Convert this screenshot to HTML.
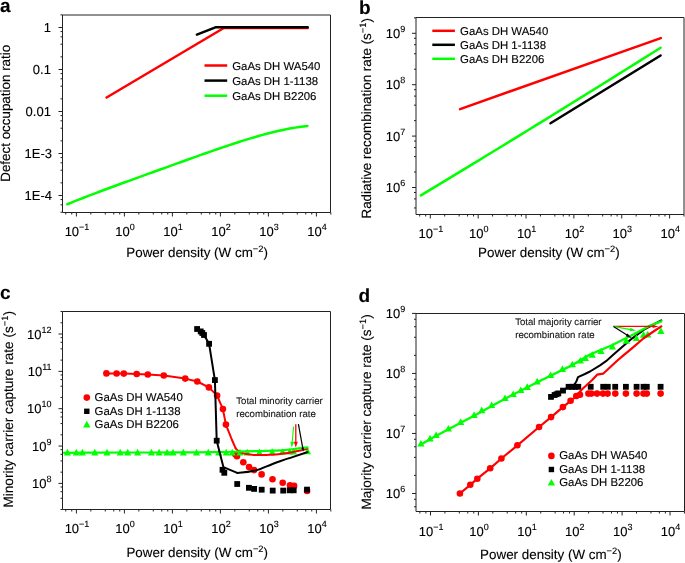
<!DOCTYPE html>
<html><head><meta charset="utf-8"><style>
html,body{margin:0;padding:0;background:#fff;width:685px;height:563px;overflow:hidden}
svg{display:block;will-change:transform}
text{font-family:"Liberation Sans",sans-serif;text-rendering:geometricPrecision;stroke:#000;stroke-width:0.12px}
</style></head><body>
<svg width="685" height="563" viewBox="0 0 685 563" font-family="Liberation Sans, sans-serif">
<rect width="685" height="563" fill="#fff"/>
<text x="0" y="12" font-size="19" text-anchor="start" font-weight="bold" fill="#000" >a</text>
<line x1="62.5" y1="15" x2="330.5" y2="15" stroke="#222" stroke-width="1"/>
<line x1="330.5" y1="15" x2="330.5" y2="212.5" stroke="#222" stroke-width="1"/>
<line x1="62.5" y1="212.5" x2="330.5" y2="212.5" stroke="#222" stroke-width="1"/>
<line x1="62.5" y1="15" x2="62.5" y2="212.5" stroke="#222" stroke-width="1"/>
<line x1="65.75" y1="212.5" x2="65.75" y2="214.5" stroke="#222" stroke-width="1"/>
<line x1="71.75" y1="212.5" x2="71.75" y2="214.5" stroke="#222" stroke-width="1"/>
<line x1="76.4" y1="212.5" x2="76.4" y2="216.5" stroke="#222" stroke-width="1"/>
<line x1="90.85" y1="212.5" x2="90.85" y2="214.5" stroke="#222" stroke-width="1"/>
<line x1="105.3" y1="212.5" x2="105.3" y2="214.5" stroke="#222" stroke-width="1"/>
<line x1="113.75" y1="212.5" x2="113.75" y2="214.5" stroke="#222" stroke-width="1"/>
<line x1="119.75" y1="212.5" x2="119.75" y2="214.5" stroke="#222" stroke-width="1"/>
<line x1="124.4" y1="212.5" x2="124.4" y2="216.5" stroke="#222" stroke-width="1"/>
<line x1="138.85" y1="212.5" x2="138.85" y2="214.5" stroke="#222" stroke-width="1"/>
<line x1="153.3" y1="212.5" x2="153.3" y2="214.5" stroke="#222" stroke-width="1"/>
<line x1="161.75" y1="212.5" x2="161.75" y2="214.5" stroke="#222" stroke-width="1"/>
<line x1="167.75" y1="212.5" x2="167.75" y2="214.5" stroke="#222" stroke-width="1"/>
<line x1="172.4" y1="212.5" x2="172.4" y2="216.5" stroke="#222" stroke-width="1"/>
<line x1="186.85" y1="212.5" x2="186.85" y2="214.5" stroke="#222" stroke-width="1"/>
<line x1="201.3" y1="212.5" x2="201.3" y2="214.5" stroke="#222" stroke-width="1"/>
<line x1="209.75" y1="212.5" x2="209.75" y2="214.5" stroke="#222" stroke-width="1"/>
<line x1="215.75" y1="212.5" x2="215.75" y2="214.5" stroke="#222" stroke-width="1"/>
<line x1="220.4" y1="212.5" x2="220.4" y2="216.5" stroke="#222" stroke-width="1"/>
<line x1="234.85" y1="212.5" x2="234.85" y2="214.5" stroke="#222" stroke-width="1"/>
<line x1="249.3" y1="212.5" x2="249.3" y2="214.5" stroke="#222" stroke-width="1"/>
<line x1="257.75" y1="212.5" x2="257.75" y2="214.5" stroke="#222" stroke-width="1"/>
<line x1="263.75" y1="212.5" x2="263.75" y2="214.5" stroke="#222" stroke-width="1"/>
<line x1="268.4" y1="212.5" x2="268.4" y2="216.5" stroke="#222" stroke-width="1"/>
<line x1="282.85" y1="212.5" x2="282.85" y2="214.5" stroke="#222" stroke-width="1"/>
<line x1="297.3" y1="212.5" x2="297.3" y2="214.5" stroke="#222" stroke-width="1"/>
<line x1="305.75" y1="212.5" x2="305.75" y2="214.5" stroke="#222" stroke-width="1"/>
<line x1="311.75" y1="212.5" x2="311.75" y2="214.5" stroke="#222" stroke-width="1"/>
<line x1="316.4" y1="212.5" x2="316.4" y2="216.5" stroke="#222" stroke-width="1"/>
<line x1="330.85" y1="212.5" x2="330.85" y2="214.5" stroke="#222" stroke-width="1"/>
<line x1="60.5" y1="212.21" x2="62.5" y2="212.21" stroke="#222" stroke-width="1"/>
<line x1="60.5" y1="204.82" x2="62.5" y2="204.82" stroke="#222" stroke-width="1"/>
<line x1="60.5" y1="199.57" x2="62.5" y2="199.57" stroke="#222" stroke-width="1"/>
<line x1="58.5" y1="195.5" x2="62.5" y2="195.5" stroke="#222" stroke-width="1"/>
<line x1="60.5" y1="182.86" x2="62.5" y2="182.86" stroke="#222" stroke-width="1"/>
<line x1="60.5" y1="170.21" x2="62.5" y2="170.21" stroke="#222" stroke-width="1"/>
<line x1="60.5" y1="162.82" x2="62.5" y2="162.82" stroke="#222" stroke-width="1"/>
<line x1="60.5" y1="157.57" x2="62.5" y2="157.57" stroke="#222" stroke-width="1"/>
<line x1="58.5" y1="153.5" x2="62.5" y2="153.5" stroke="#222" stroke-width="1"/>
<line x1="60.5" y1="140.86" x2="62.5" y2="140.86" stroke="#222" stroke-width="1"/>
<line x1="60.5" y1="128.21" x2="62.5" y2="128.21" stroke="#222" stroke-width="1"/>
<line x1="60.5" y1="120.82" x2="62.5" y2="120.82" stroke="#222" stroke-width="1"/>
<line x1="60.5" y1="115.57" x2="62.5" y2="115.57" stroke="#222" stroke-width="1"/>
<line x1="58.5" y1="111.5" x2="62.5" y2="111.5" stroke="#222" stroke-width="1"/>
<line x1="60.5" y1="98.86" x2="62.5" y2="98.86" stroke="#222" stroke-width="1"/>
<line x1="60.5" y1="86.21" x2="62.5" y2="86.21" stroke="#222" stroke-width="1"/>
<line x1="60.5" y1="78.82" x2="62.5" y2="78.82" stroke="#222" stroke-width="1"/>
<line x1="60.5" y1="73.57" x2="62.5" y2="73.57" stroke="#222" stroke-width="1"/>
<line x1="58.5" y1="69.5" x2="62.5" y2="69.5" stroke="#222" stroke-width="1"/>
<line x1="60.5" y1="56.86" x2="62.5" y2="56.86" stroke="#222" stroke-width="1"/>
<line x1="60.5" y1="44.21" x2="62.5" y2="44.21" stroke="#222" stroke-width="1"/>
<line x1="60.5" y1="36.82" x2="62.5" y2="36.82" stroke="#222" stroke-width="1"/>
<line x1="60.5" y1="31.57" x2="62.5" y2="31.57" stroke="#222" stroke-width="1"/>
<line x1="58.5" y1="27.5" x2="62.5" y2="27.5" stroke="#222" stroke-width="1"/>
<line x1="60.5" y1="14.86" x2="62.5" y2="14.86" stroke="#222" stroke-width="1"/>
<text x="50.9" y="32" font-size="13" text-anchor="end" font-weight="normal" fill="#000" >1</text>
<text x="50.9" y="74" font-size="13" text-anchor="end" font-weight="normal" fill="#000" >0.1</text>
<text x="50.9" y="116" font-size="13" text-anchor="end" font-weight="normal" fill="#000" >0.01</text>
<text x="52" y="158" font-size="13" text-anchor="end" font-weight="normal" fill="#000" >1E-3</text>
<text x="52" y="200" font-size="13" text-anchor="end" font-weight="normal" fill="#000" >1E-4</text>
<text x="77" y="235.8" font-size="13" text-anchor="middle" fill="#000">10<tspan dy="-6" font-size="9">−1</tspan></text>
<text x="125" y="235.8" font-size="13" text-anchor="middle" fill="#000">10<tspan dy="-6" font-size="9">0</tspan></text>
<text x="173" y="235.8" font-size="13" text-anchor="middle" fill="#000">10<tspan dy="-6" font-size="9">1</tspan></text>
<text x="221" y="235.8" font-size="13" text-anchor="middle" fill="#000">10<tspan dy="-6" font-size="9">2</tspan></text>
<text x="269" y="235.8" font-size="13" text-anchor="middle" fill="#000">10<tspan dy="-6" font-size="9">3</tspan></text>
<text x="317" y="235.8" font-size="13" text-anchor="middle" fill="#000">10<tspan dy="-6" font-size="9">4</tspan></text>
<text x="197.1" y="256.6" font-size="13.4" text-anchor="middle" font-weight="normal" fill="#000" >Power density (W cm<tspan dy="-5" font-size="9.3">−2</tspan><tspan dy="5">)</tspan></text>
<text x="10.2" y="113.3" font-size="13.4" text-anchor="middle" font-weight="normal" fill="#000" transform="rotate(-90 10.2 113.3)">Defect occupation ratio</text>
<polyline points="106.6,97.5 223.8,28 307.7,28" fill="none" stroke="#f00" stroke-width="2.5" stroke-linejoin="round" stroke-linecap="round" />
<polyline points="196.9,34.6 215.4,27.3 307.7,27.3" fill="none" stroke="#000" stroke-width="2.5" stroke-linejoin="round" stroke-linecap="round" />
<polyline points="67.3,204.27 71.37,202.6 75.44,200.95 79.51,199.33 83.58,197.73 87.65,196.15 91.72,194.59 95.79,193.05 99.86,191.52 103.93,190 107.99,188.49 112.06,186.99 116.13,185.49 120.2,184.01 124.27,182.53 128.34,181.05 132.41,179.58 136.48,178.1 140.55,176.63 144.62,175.16 148.69,173.69 152.76,172.23 156.83,170.76 160.9,169.29 164.97,167.82 169.04,166.35 173.11,164.88 177.18,163.42 181.25,161.95 185.32,160.49 189.38,159.03 193.45,157.57 197.52,156.12 201.59,154.67 205.66,153.24 209.73,151.81 213.8,150.39 217.87,148.98 221.94,147.59 226.01,146.21 230.08,144.85 234.15,143.51 238.22,142.19 242.29,140.9 246.36,139.63 250.43,138.4 254.5,137.19 258.57,136.02 262.64,134.89 266.71,133.8 270.77,132.76 274.84,131.76 278.91,130.82 282.98,129.93 287.05,129.09 291.12,128.33 295.19,127.62 299.26,126.99 303.33,126.44 307.4,125.96" fill="none" stroke="#0f0" stroke-width="2.5" stroke-linejoin="round" stroke-linecap="round" />
<line x1="204.5" y1="65.5" x2="227.2" y2="65.5" stroke="#f00" stroke-width="2.5"/>
<text x="232.2" y="69.5" font-size="11.4" text-anchor="start" font-weight="normal" fill="#000" >GaAs DH WA540</text>
<line x1="204.5" y1="80.6" x2="227.2" y2="80.6" stroke="#000" stroke-width="2.5"/>
<text x="232.2" y="84.6" font-size="11.4" text-anchor="start" font-weight="normal" fill="#000" >GaAs DH 1-1138</text>
<line x1="204.5" y1="95.7" x2="227.2" y2="95.7" stroke="#0f0" stroke-width="2.5"/>
<text x="232.2" y="99.7" font-size="11.4" text-anchor="start" font-weight="normal" fill="#000" >GaAs DH B2206</text>
<text x="359" y="13.9" font-size="19" text-anchor="start" font-weight="bold" fill="#000" >b</text>
<line x1="416" y1="17.5" x2="684" y2="17.5" stroke="#222" stroke-width="1"/>
<line x1="684" y1="17.5" x2="684" y2="214.5" stroke="#222" stroke-width="1"/>
<line x1="416" y1="214.5" x2="684" y2="214.5" stroke="#222" stroke-width="1"/>
<line x1="416" y1="17.5" x2="416" y2="214.5" stroke="#222" stroke-width="1"/>
<line x1="419.68" y1="214.5" x2="419.68" y2="216.5" stroke="#222" stroke-width="1"/>
<line x1="425.66" y1="214.5" x2="425.66" y2="216.5" stroke="#222" stroke-width="1"/>
<line x1="430.3" y1="214.5" x2="430.3" y2="218.5" stroke="#222" stroke-width="1"/>
<line x1="444.71" y1="214.5" x2="444.71" y2="216.5" stroke="#222" stroke-width="1"/>
<line x1="459.11" y1="214.5" x2="459.11" y2="216.5" stroke="#222" stroke-width="1"/>
<line x1="467.54" y1="214.5" x2="467.54" y2="216.5" stroke="#222" stroke-width="1"/>
<line x1="473.52" y1="214.5" x2="473.52" y2="216.5" stroke="#222" stroke-width="1"/>
<line x1="478.16" y1="214.5" x2="478.16" y2="218.5" stroke="#222" stroke-width="1"/>
<line x1="492.57" y1="214.5" x2="492.57" y2="216.5" stroke="#222" stroke-width="1"/>
<line x1="506.97" y1="214.5" x2="506.97" y2="216.5" stroke="#222" stroke-width="1"/>
<line x1="515.4" y1="214.5" x2="515.4" y2="216.5" stroke="#222" stroke-width="1"/>
<line x1="521.38" y1="214.5" x2="521.38" y2="216.5" stroke="#222" stroke-width="1"/>
<line x1="526.02" y1="214.5" x2="526.02" y2="218.5" stroke="#222" stroke-width="1"/>
<line x1="540.43" y1="214.5" x2="540.43" y2="216.5" stroke="#222" stroke-width="1"/>
<line x1="554.83" y1="214.5" x2="554.83" y2="216.5" stroke="#222" stroke-width="1"/>
<line x1="563.26" y1="214.5" x2="563.26" y2="216.5" stroke="#222" stroke-width="1"/>
<line x1="569.24" y1="214.5" x2="569.24" y2="216.5" stroke="#222" stroke-width="1"/>
<line x1="573.88" y1="214.5" x2="573.88" y2="218.5" stroke="#222" stroke-width="1"/>
<line x1="588.29" y1="214.5" x2="588.29" y2="216.5" stroke="#222" stroke-width="1"/>
<line x1="602.69" y1="214.5" x2="602.69" y2="216.5" stroke="#222" stroke-width="1"/>
<line x1="611.12" y1="214.5" x2="611.12" y2="216.5" stroke="#222" stroke-width="1"/>
<line x1="617.1" y1="214.5" x2="617.1" y2="216.5" stroke="#222" stroke-width="1"/>
<line x1="621.74" y1="214.5" x2="621.74" y2="218.5" stroke="#222" stroke-width="1"/>
<line x1="636.15" y1="214.5" x2="636.15" y2="216.5" stroke="#222" stroke-width="1"/>
<line x1="650.55" y1="214.5" x2="650.55" y2="216.5" stroke="#222" stroke-width="1"/>
<line x1="658.98" y1="214.5" x2="658.98" y2="216.5" stroke="#222" stroke-width="1"/>
<line x1="664.96" y1="214.5" x2="664.96" y2="216.5" stroke="#222" stroke-width="1"/>
<line x1="669.6" y1="214.5" x2="669.6" y2="218.5" stroke="#222" stroke-width="1"/>
<line x1="684.01" y1="214.5" x2="684.01" y2="216.5" stroke="#222" stroke-width="1"/>
<line x1="414" y1="207.95" x2="416" y2="207.95" stroke="#222" stroke-width="1"/>
<line x1="414" y1="198.9" x2="416" y2="198.9" stroke="#222" stroke-width="1"/>
<line x1="414" y1="192.48" x2="416" y2="192.48" stroke="#222" stroke-width="1"/>
<line x1="412" y1="187.5" x2="416" y2="187.5" stroke="#222" stroke-width="1"/>
<line x1="414" y1="172.03" x2="416" y2="172.03" stroke="#222" stroke-width="1"/>
<line x1="414" y1="156.55" x2="416" y2="156.55" stroke="#222" stroke-width="1"/>
<line x1="414" y1="147.5" x2="416" y2="147.5" stroke="#222" stroke-width="1"/>
<line x1="414" y1="141.08" x2="416" y2="141.08" stroke="#222" stroke-width="1"/>
<line x1="412" y1="136.1" x2="416" y2="136.1" stroke="#222" stroke-width="1"/>
<line x1="414" y1="120.63" x2="416" y2="120.63" stroke="#222" stroke-width="1"/>
<line x1="414" y1="105.15" x2="416" y2="105.15" stroke="#222" stroke-width="1"/>
<line x1="414" y1="96.1" x2="416" y2="96.1" stroke="#222" stroke-width="1"/>
<line x1="414" y1="89.68" x2="416" y2="89.68" stroke="#222" stroke-width="1"/>
<line x1="412" y1="84.7" x2="416" y2="84.7" stroke="#222" stroke-width="1"/>
<line x1="414" y1="69.23" x2="416" y2="69.23" stroke="#222" stroke-width="1"/>
<line x1="414" y1="53.75" x2="416" y2="53.75" stroke="#222" stroke-width="1"/>
<line x1="414" y1="44.7" x2="416" y2="44.7" stroke="#222" stroke-width="1"/>
<line x1="414" y1="38.28" x2="416" y2="38.28" stroke="#222" stroke-width="1"/>
<line x1="412" y1="33.3" x2="416" y2="33.3" stroke="#222" stroke-width="1"/>
<line x1="414" y1="17.83" x2="416" y2="17.83" stroke="#222" stroke-width="1"/>
<text x="405.3" y="37.7" font-size="13" text-anchor="end">10<tspan dy="-6" font-size="9">9</tspan></text>
<text x="405.3" y="89.1" font-size="13" text-anchor="end">10<tspan dy="-6" font-size="9">8</tspan></text>
<text x="405.3" y="140.5" font-size="13" text-anchor="end">10<tspan dy="-6" font-size="9">7</tspan></text>
<text x="405.3" y="191.9" font-size="13" text-anchor="end">10<tspan dy="-6" font-size="9">6</tspan></text>
<text x="430.9" y="238" font-size="13" text-anchor="middle" fill="#000">10<tspan dy="-6" font-size="9">−1</tspan></text>
<text x="478.76" y="238" font-size="13" text-anchor="middle" fill="#000">10<tspan dy="-6" font-size="9">0</tspan></text>
<text x="526.62" y="238" font-size="13" text-anchor="middle" fill="#000">10<tspan dy="-6" font-size="9">1</tspan></text>
<text x="574.48" y="238" font-size="13" text-anchor="middle" fill="#000">10<tspan dy="-6" font-size="9">2</tspan></text>
<text x="622.34" y="238" font-size="13" text-anchor="middle" fill="#000">10<tspan dy="-6" font-size="9">3</tspan></text>
<text x="670.2" y="238" font-size="13" text-anchor="middle" fill="#000">10<tspan dy="-6" font-size="9">4</tspan></text>
<text x="548.9" y="256.5" font-size="13.4" text-anchor="middle" font-weight="normal" fill="#000" >Power density (W cm<tspan dy="-5" font-size="9.3">−2</tspan><tspan dy="5">)</tspan></text>
<text x="371.4" y="118.3" font-size="13.4" text-anchor="middle" font-weight="normal" fill="#000" transform="rotate(-90 371.4 118.3)">Radiative recombination rate (s<tspan dy="-5" font-size="9.3">−1</tspan><tspan dy="5">)</tspan></text>
<polyline points="460.1,109.1 660.8,38.1" fill="none" stroke="#f00" stroke-width="2.5" stroke-linejoin="round" stroke-linecap="round" />
<polyline points="550.5,123.3 660.6,55.5" fill="none" stroke="#000" stroke-width="2.5" stroke-linejoin="round" stroke-linecap="round" />
<polyline points="420.9,195.41 429.17,190.42 437.43,185.42 445.7,180.42 453.96,175.41 462.23,170.39 470.49,165.37 478.76,160.34 487.02,155.3 495.29,150.25 503.56,145.2 511.82,140.13 520.09,135.07 528.35,129.99 536.62,124.91 544.88,119.82 553.15,114.72 561.41,109.61 569.68,104.5 577.94,99.38 586.21,94.25 594.48,89.12 602.74,83.98 611.01,78.83 619.27,73.67 627.54,68.51 635.8,63.34 644.07,58.16 652.33,52.97 660.6,47.78" fill="none" stroke="#0f0" stroke-width="2.5" stroke-linejoin="round" stroke-linecap="round" />
<line x1="432.3" y1="30.8" x2="454.9" y2="30.8" stroke="#f00" stroke-width="2.5"/>
<text x="460.1" y="34.7" font-size="11.4" text-anchor="start" font-weight="normal" fill="#000" >GaAs DH WA540</text>
<line x1="432.3" y1="44.8" x2="454.9" y2="44.8" stroke="#000" stroke-width="2.5"/>
<text x="460.1" y="48.7" font-size="11.4" text-anchor="start" font-weight="normal" fill="#000" >GaAs DH 1-1138</text>
<line x1="432.3" y1="58.8" x2="454.9" y2="58.8" stroke="#0f0" stroke-width="2.5"/>
<text x="460.1" y="62.7" font-size="11.4" text-anchor="start" font-weight="normal" fill="#000" >GaAs DH B2206</text>
<text x="0" y="299.4" font-size="19" text-anchor="start" font-weight="bold" fill="#000" >c</text>
<line x1="62.5" y1="311.5" x2="330.5" y2="311.5" stroke="#222" stroke-width="1"/>
<line x1="330.5" y1="311.5" x2="330.5" y2="509.5" stroke="#222" stroke-width="1"/>
<line x1="62.5" y1="509.5" x2="330.5" y2="509.5" stroke="#222" stroke-width="1"/>
<line x1="62.5" y1="311.5" x2="62.5" y2="509.5" stroke="#222" stroke-width="1"/>
<line x1="65.75" y1="509.5" x2="65.75" y2="511.5" stroke="#222" stroke-width="1"/>
<line x1="71.75" y1="509.5" x2="71.75" y2="511.5" stroke="#222" stroke-width="1"/>
<line x1="76.4" y1="509.5" x2="76.4" y2="513.5" stroke="#222" stroke-width="1"/>
<line x1="90.85" y1="509.5" x2="90.85" y2="511.5" stroke="#222" stroke-width="1"/>
<line x1="105.3" y1="509.5" x2="105.3" y2="511.5" stroke="#222" stroke-width="1"/>
<line x1="113.75" y1="509.5" x2="113.75" y2="511.5" stroke="#222" stroke-width="1"/>
<line x1="119.75" y1="509.5" x2="119.75" y2="511.5" stroke="#222" stroke-width="1"/>
<line x1="124.4" y1="509.5" x2="124.4" y2="513.5" stroke="#222" stroke-width="1"/>
<line x1="138.85" y1="509.5" x2="138.85" y2="511.5" stroke="#222" stroke-width="1"/>
<line x1="153.3" y1="509.5" x2="153.3" y2="511.5" stroke="#222" stroke-width="1"/>
<line x1="161.75" y1="509.5" x2="161.75" y2="511.5" stroke="#222" stroke-width="1"/>
<line x1="167.75" y1="509.5" x2="167.75" y2="511.5" stroke="#222" stroke-width="1"/>
<line x1="172.4" y1="509.5" x2="172.4" y2="513.5" stroke="#222" stroke-width="1"/>
<line x1="186.85" y1="509.5" x2="186.85" y2="511.5" stroke="#222" stroke-width="1"/>
<line x1="201.3" y1="509.5" x2="201.3" y2="511.5" stroke="#222" stroke-width="1"/>
<line x1="209.75" y1="509.5" x2="209.75" y2="511.5" stroke="#222" stroke-width="1"/>
<line x1="215.75" y1="509.5" x2="215.75" y2="511.5" stroke="#222" stroke-width="1"/>
<line x1="220.4" y1="509.5" x2="220.4" y2="513.5" stroke="#222" stroke-width="1"/>
<line x1="234.85" y1="509.5" x2="234.85" y2="511.5" stroke="#222" stroke-width="1"/>
<line x1="249.3" y1="509.5" x2="249.3" y2="511.5" stroke="#222" stroke-width="1"/>
<line x1="257.75" y1="509.5" x2="257.75" y2="511.5" stroke="#222" stroke-width="1"/>
<line x1="263.75" y1="509.5" x2="263.75" y2="511.5" stroke="#222" stroke-width="1"/>
<line x1="268.4" y1="509.5" x2="268.4" y2="513.5" stroke="#222" stroke-width="1"/>
<line x1="282.85" y1="509.5" x2="282.85" y2="511.5" stroke="#222" stroke-width="1"/>
<line x1="297.3" y1="509.5" x2="297.3" y2="511.5" stroke="#222" stroke-width="1"/>
<line x1="305.75" y1="509.5" x2="305.75" y2="511.5" stroke="#222" stroke-width="1"/>
<line x1="311.75" y1="509.5" x2="311.75" y2="511.5" stroke="#222" stroke-width="1"/>
<line x1="316.4" y1="509.5" x2="316.4" y2="513.5" stroke="#222" stroke-width="1"/>
<line x1="330.85" y1="509.5" x2="330.85" y2="511.5" stroke="#222" stroke-width="1"/>
<line x1="60.5" y1="509.51" x2="62.5" y2="509.51" stroke="#222" stroke-width="1"/>
<line x1="60.5" y1="498.26" x2="62.5" y2="498.26" stroke="#222" stroke-width="1"/>
<line x1="60.5" y1="491.69" x2="62.5" y2="491.69" stroke="#222" stroke-width="1"/>
<line x1="60.5" y1="487.02" x2="62.5" y2="487.02" stroke="#222" stroke-width="1"/>
<line x1="58.5" y1="483.4" x2="62.5" y2="483.4" stroke="#222" stroke-width="1"/>
<line x1="60.5" y1="472.16" x2="62.5" y2="472.16" stroke="#222" stroke-width="1"/>
<line x1="60.5" y1="460.91" x2="62.5" y2="460.91" stroke="#222" stroke-width="1"/>
<line x1="60.5" y1="454.34" x2="62.5" y2="454.34" stroke="#222" stroke-width="1"/>
<line x1="60.5" y1="449.67" x2="62.5" y2="449.67" stroke="#222" stroke-width="1"/>
<line x1="58.5" y1="446.05" x2="62.5" y2="446.05" stroke="#222" stroke-width="1"/>
<line x1="60.5" y1="434.81" x2="62.5" y2="434.81" stroke="#222" stroke-width="1"/>
<line x1="60.5" y1="423.56" x2="62.5" y2="423.56" stroke="#222" stroke-width="1"/>
<line x1="60.5" y1="416.99" x2="62.5" y2="416.99" stroke="#222" stroke-width="1"/>
<line x1="60.5" y1="412.32" x2="62.5" y2="412.32" stroke="#222" stroke-width="1"/>
<line x1="58.5" y1="408.7" x2="62.5" y2="408.7" stroke="#222" stroke-width="1"/>
<line x1="60.5" y1="397.46" x2="62.5" y2="397.46" stroke="#222" stroke-width="1"/>
<line x1="60.5" y1="386.21" x2="62.5" y2="386.21" stroke="#222" stroke-width="1"/>
<line x1="60.5" y1="379.64" x2="62.5" y2="379.64" stroke="#222" stroke-width="1"/>
<line x1="60.5" y1="374.97" x2="62.5" y2="374.97" stroke="#222" stroke-width="1"/>
<line x1="58.5" y1="371.35" x2="62.5" y2="371.35" stroke="#222" stroke-width="1"/>
<line x1="60.5" y1="360.11" x2="62.5" y2="360.11" stroke="#222" stroke-width="1"/>
<line x1="60.5" y1="348.86" x2="62.5" y2="348.86" stroke="#222" stroke-width="1"/>
<line x1="60.5" y1="342.29" x2="62.5" y2="342.29" stroke="#222" stroke-width="1"/>
<line x1="60.5" y1="337.62" x2="62.5" y2="337.62" stroke="#222" stroke-width="1"/>
<line x1="58.5" y1="334" x2="62.5" y2="334" stroke="#222" stroke-width="1"/>
<line x1="60.5" y1="322.76" x2="62.5" y2="322.76" stroke="#222" stroke-width="1"/>
<line x1="60.5" y1="311.51" x2="62.5" y2="311.51" stroke="#222" stroke-width="1"/>
<text x="51.6" y="338.5" font-size="13" text-anchor="end">10<tspan dy="-6" font-size="9">12</tspan></text>
<text x="51.6" y="375.85" font-size="13" text-anchor="end">10<tspan dy="-6" font-size="9">11</tspan></text>
<text x="51.6" y="413.2" font-size="13" text-anchor="end">10<tspan dy="-6" font-size="9">10</tspan></text>
<text x="51.6" y="450.55" font-size="13" text-anchor="end">10<tspan dy="-6" font-size="9">9</tspan></text>
<text x="51.6" y="487.9" font-size="13" text-anchor="end">10<tspan dy="-6" font-size="9">8</tspan></text>
<text x="77" y="533.4" font-size="13" text-anchor="middle" fill="#000">10<tspan dy="-6" font-size="9">−1</tspan></text>
<text x="125" y="533.4" font-size="13" text-anchor="middle" fill="#000">10<tspan dy="-6" font-size="9">0</tspan></text>
<text x="173" y="533.4" font-size="13" text-anchor="middle" fill="#000">10<tspan dy="-6" font-size="9">1</tspan></text>
<text x="221" y="533.4" font-size="13" text-anchor="middle" fill="#000">10<tspan dy="-6" font-size="9">2</tspan></text>
<text x="269" y="533.4" font-size="13" text-anchor="middle" fill="#000">10<tspan dy="-6" font-size="9">3</tspan></text>
<text x="317" y="533.4" font-size="13" text-anchor="middle" fill="#000">10<tspan dy="-6" font-size="9">4</tspan></text>
<text x="197.2" y="557.1" font-size="13.4" text-anchor="middle" font-weight="normal" fill="#000" >Power density (W cm<tspan dy="-5" font-size="9.3">−2</tspan><tspan dy="5">)</tspan></text>
<text x="12.7" y="409.3" font-size="13.6" text-anchor="middle" font-weight="normal" fill="#000" transform="rotate(-90 12.7 409.3)">Minority carrier capture rate (s<tspan dy="-5" font-size="9.4">−1</tspan><tspan dy="5">)</tspan></text>
<circle cx="106.4" cy="373.4" r="3.3" fill="#f00"/>
<circle cx="116.6" cy="373.5" r="3.3" fill="#f00"/>
<circle cx="123.8" cy="373.6" r="3.3" fill="#f00"/>
<circle cx="136.7" cy="374" r="3.3" fill="#f00"/>
<circle cx="147.8" cy="374.5" r="3.3" fill="#f00"/>
<circle cx="163.8" cy="375.5" r="3.3" fill="#f00"/>
<circle cx="185.2" cy="378.6" r="3.3" fill="#f00"/>
<circle cx="197.3" cy="381.5" r="3.3" fill="#f00"/>
<circle cx="208.9" cy="387.4" r="3.3" fill="#f00"/>
<circle cx="217.1" cy="395.6" r="3.3" fill="#f00"/>
<circle cx="222.9" cy="409.1" r="3.3" fill="#f00"/>
<circle cx="225.9" cy="424.6" r="3.3" fill="#f00"/>
<circle cx="235.3" cy="454.3" r="3.3" fill="#f00"/>
<circle cx="237" cy="456.2" r="3.3" fill="#f00"/>
<circle cx="243.3" cy="462.3" r="3.3" fill="#f00"/>
<circle cx="249.1" cy="467" r="3.3" fill="#f00"/>
<circle cx="254.1" cy="470.1" r="3.3" fill="#f00"/>
<circle cx="261.6" cy="474.4" r="3.3" fill="#f00"/>
<circle cx="272.5" cy="479.2" r="3.3" fill="#f00"/>
<circle cx="282.7" cy="482.7" r="3.3" fill="#f00"/>
<circle cx="290" cy="485.2" r="3.3" fill="#f00"/>
<circle cx="294.1" cy="485.9" r="3.3" fill="#f00"/>
<circle cx="307.1" cy="490.9" r="3.3" fill="#f00"/>
<polygon points="67.4,448.8 63.9,455.4 70.9,455.4" fill="#0f0"/>
<polygon points="76.3,448.8 72.8,455.4 79.8,455.4" fill="#0f0"/>
<polygon points="82.4,448.8 78.9,455.4 85.9,455.4" fill="#0f0"/>
<polygon points="94.8,448.8 91.3,455.4 98.3,455.4" fill="#0f0"/>
<polygon points="107,448.8 103.5,455.4 110.5,455.4" fill="#0f0"/>
<polygon points="120.2,448.8 116.7,455.4 123.7,455.4" fill="#0f0"/>
<polygon points="127.7,448.8 124.2,455.4 131.2,455.4" fill="#0f0"/>
<polygon points="137.6,448.8 134.1,455.4 141.1,455.4" fill="#0f0"/>
<polygon points="151.4,448.8 147.9,455.4 154.9,455.4" fill="#0f0"/>
<polygon points="159.1,448.8 155.6,455.4 162.6,455.4" fill="#0f0"/>
<polygon points="167,448.8 163.5,455.4 170.5,455.4" fill="#0f0"/>
<polygon points="173,448.8 169.5,455.4 176.5,455.4" fill="#0f0"/>
<polygon points="183.3,448.8 179.8,455.4 186.8,455.4" fill="#0f0"/>
<polygon points="196.5,448.8 193,455.4 200,455.4" fill="#0f0"/>
<polygon points="208.3,448.8 204.8,455.4 211.8,455.4" fill="#0f0"/>
<polygon points="218.7,448.8 215.2,455.4 222.2,455.4" fill="#0f0"/>
<polygon points="226.2,448.8 222.7,455.4 229.7,455.4" fill="#0f0"/>
<polygon points="232.2,448.8 228.7,455.4 235.7,455.4" fill="#0f0"/>
<polygon points="240,448.8 236.5,455.4 243.5,455.4" fill="#0f0"/>
<polygon points="247.3,448.8 243.8,455.4 250.8,455.4" fill="#0f0"/>
<polygon points="259.4,448.61 255.9,455.21 262.9,455.21" fill="#0f0"/>
<polygon points="272.3,448.35 268.8,454.95 275.8,454.95" fill="#0f0"/>
<polygon points="282.5,448.15 279,454.75 286,454.75" fill="#0f0"/>
<polygon points="289.7,448.01 286.2,454.61 293.2,454.61" fill="#0f0"/>
<polygon points="293.5,447.93 290,454.53 297,454.53" fill="#0f0"/>
<polygon points="307.5,447.65 304,454.25 311,454.25" fill="#0f0"/>
<polyline points="106.4,373.4 116.6,373.5 123.8,373.6 136.7,374 147.8,374.5 163.8,375.5 185.2,378.6 197.3,381.5 208.9,387.4 217.1,395.6 222.9,409.1 225.9,424.6 232,440 235.6,448.2" fill="none" stroke="#f00" stroke-width="2" stroke-linejoin="round" stroke-linecap="round" />
<path d="M235.6,448.2 C237.4,449.6 236.2,450.33 241,452.4 C245.8,454.47 243.67,453.53 250,454.4 C256.33,455.27 253.33,454.87 260,455 C266.67,455.13 263.33,455.13 270,454.8 C276.67,454.47 271.67,455.07 280,454 C288.33,452.93 285.83,453.37 295,451.6 C304.17,449.83 303.33,449.67 307.5,448.7" fill="none" stroke="#f00" stroke-width="2" stroke-linejoin="round" stroke-linecap="round"/>
<path d="M64,452.8 C92.67,452.7 100.67,452.7 150,452.5 C199.33,452.3 180.33,452.6 212,452.2 C243.67,451.8 225,451.83 245,451.3 C265,450.77 257,451.2 272,450.6 C287,450 278.17,450.6 290,449.5 C301.83,448.4 301.67,448.03 307.5,447.3" fill="none" stroke="#0f0" stroke-width="2.2" stroke-linejoin="round" stroke-linecap="round"/>
<polyline points="197.1,329 200.7,331.4 202.3,333 204,335 209.1,343.8 214.9,380.1 215.8,410 216.7,440.7 223.4,467.1 237.3,472.9" fill="none" stroke="#000" stroke-width="2" stroke-linejoin="round" stroke-linecap="round" />
<path d="M237.3,472.9 C242.8,472.2 244.23,472.9 253.8,470.8 C263.37,468.7 257.27,469.8 266,466.6 C274.73,463.4 270.67,464.53 280,461.2 C289.33,457.87 284.83,459.63 294,456.6 C303.17,453.57 303,453.6 307.5,452.1" fill="none" stroke="#000" stroke-width="2" stroke-linejoin="round" stroke-linecap="round"/>
<rect x="194.2" y="326.1" width="5.8" height="5.8" fill="#000"/>
<rect x="197.8" y="328.5" width="5.8" height="5.8" fill="#000"/>
<rect x="199.4" y="330.1" width="5.8" height="5.8" fill="#000"/>
<rect x="201.1" y="332.1" width="5.8" height="5.8" fill="#000"/>
<rect x="206.2" y="340.9" width="5.8" height="5.8" fill="#000"/>
<rect x="212" y="377.2" width="5.8" height="5.8" fill="#000"/>
<rect x="213.8" y="437.8" width="5.8" height="5.8" fill="#000"/>
<rect x="219.6" y="466.9" width="5.8" height="5.8" fill="#000"/>
<rect x="221.4" y="469.9" width="5.8" height="5.8" fill="#000"/>
<rect x="234.3" y="481.1" width="5.8" height="5.8" fill="#000"/>
<rect x="246" y="484.9" width="5.8" height="5.8" fill="#000"/>
<rect x="251.2" y="486" width="5.8" height="5.8" fill="#000"/>
<rect x="258.8" y="486.8" width="5.8" height="5.8" fill="#000"/>
<rect x="269.8" y="487.7" width="5.8" height="5.8" fill="#000"/>
<rect x="280.3" y="487.7" width="5.8" height="5.8" fill="#000"/>
<rect x="286.8" y="487.4" width="5.8" height="5.8" fill="#000"/>
<rect x="290.8" y="487.4" width="5.8" height="5.8" fill="#000"/>
<rect x="304.1" y="486.7" width="5.8" height="5.8" fill="#000"/>
<line x1="293.6" y1="426.6" x2="292.18" y2="442.32" stroke="#0f0" stroke-width="1.1"/>
<polygon points="291.7,447.6 290.33,441.65 294.11,441.99" fill="#0f0"/>
<line x1="295.8" y1="424.2" x2="295.8" y2="442.3" stroke="#f00" stroke-width="1.3"/>
<polygon points="295.8,447.6 293.8,441.8 297.8,441.8" fill="#f00"/>
<line x1="298.4" y1="424.2" x2="302.77" y2="448.16" stroke="#000" stroke-width="1.2"/>
<polygon points="303.4,451.6 301.4,447.9 303.96,447.43" fill="#000"/>
<text x="236.3" y="404.1" font-size="9.6" text-anchor="start" font-weight="normal" fill="#222" >Total minority carrier</text>
<text x="236.3" y="416.8" font-size="9.6" text-anchor="start" font-weight="normal" fill="#222" >recombination rate</text>
<circle cx="86.8" cy="397.6" r="3.3" fill="#f00"/>
<rect x="84.1" y="408.6" width="5.4" height="5.4" fill="#000"/>
<polygon points="86.8,420.8 83.1,427.4 90.5,427.4" fill="#0f0"/>
<text x="94.6" y="401.4" font-size="11.4" text-anchor="start" font-weight="normal" fill="#000" >GaAs DH WA540</text>
<text x="94.6" y="414.7" font-size="11.4" text-anchor="start" font-weight="normal" fill="#000" >GaAs DH 1-1138</text>
<text x="94.6" y="428" font-size="11.4" text-anchor="start" font-weight="normal" fill="#000" >GaAs DH B2206</text>
<text x="358.4" y="301.6" font-size="19" text-anchor="start" font-weight="bold" fill="#000" >d</text>
<line x1="416" y1="313.5" x2="684.5" y2="313.5" stroke="#222" stroke-width="1"/>
<line x1="684.5" y1="313.5" x2="684.5" y2="511.5" stroke="#222" stroke-width="1"/>
<line x1="416" y1="511.5" x2="684.5" y2="511.5" stroke="#222" stroke-width="1"/>
<line x1="416" y1="313.5" x2="416" y2="511.5" stroke="#222" stroke-width="1"/>
<line x1="419.87" y1="511.5" x2="419.87" y2="513.5" stroke="#222" stroke-width="1"/>
<line x1="425.86" y1="511.5" x2="425.86" y2="513.5" stroke="#222" stroke-width="1"/>
<line x1="430.5" y1="511.5" x2="430.5" y2="515.5" stroke="#222" stroke-width="1"/>
<line x1="444.92" y1="511.5" x2="444.92" y2="513.5" stroke="#222" stroke-width="1"/>
<line x1="459.34" y1="511.5" x2="459.34" y2="513.5" stroke="#222" stroke-width="1"/>
<line x1="467.77" y1="511.5" x2="467.77" y2="513.5" stroke="#222" stroke-width="1"/>
<line x1="473.76" y1="511.5" x2="473.76" y2="513.5" stroke="#222" stroke-width="1"/>
<line x1="478.4" y1="511.5" x2="478.4" y2="515.5" stroke="#222" stroke-width="1"/>
<line x1="492.82" y1="511.5" x2="492.82" y2="513.5" stroke="#222" stroke-width="1"/>
<line x1="507.24" y1="511.5" x2="507.24" y2="513.5" stroke="#222" stroke-width="1"/>
<line x1="515.67" y1="511.5" x2="515.67" y2="513.5" stroke="#222" stroke-width="1"/>
<line x1="521.66" y1="511.5" x2="521.66" y2="513.5" stroke="#222" stroke-width="1"/>
<line x1="526.3" y1="511.5" x2="526.3" y2="515.5" stroke="#222" stroke-width="1"/>
<line x1="540.72" y1="511.5" x2="540.72" y2="513.5" stroke="#222" stroke-width="1"/>
<line x1="555.14" y1="511.5" x2="555.14" y2="513.5" stroke="#222" stroke-width="1"/>
<line x1="563.57" y1="511.5" x2="563.57" y2="513.5" stroke="#222" stroke-width="1"/>
<line x1="569.56" y1="511.5" x2="569.56" y2="513.5" stroke="#222" stroke-width="1"/>
<line x1="574.2" y1="511.5" x2="574.2" y2="515.5" stroke="#222" stroke-width="1"/>
<line x1="588.62" y1="511.5" x2="588.62" y2="513.5" stroke="#222" stroke-width="1"/>
<line x1="603.04" y1="511.5" x2="603.04" y2="513.5" stroke="#222" stroke-width="1"/>
<line x1="611.47" y1="511.5" x2="611.47" y2="513.5" stroke="#222" stroke-width="1"/>
<line x1="617.46" y1="511.5" x2="617.46" y2="513.5" stroke="#222" stroke-width="1"/>
<line x1="622.1" y1="511.5" x2="622.1" y2="515.5" stroke="#222" stroke-width="1"/>
<line x1="636.52" y1="511.5" x2="636.52" y2="513.5" stroke="#222" stroke-width="1"/>
<line x1="650.94" y1="511.5" x2="650.94" y2="513.5" stroke="#222" stroke-width="1"/>
<line x1="659.37" y1="511.5" x2="659.37" y2="513.5" stroke="#222" stroke-width="1"/>
<line x1="665.36" y1="511.5" x2="665.36" y2="513.5" stroke="#222" stroke-width="1"/>
<line x1="670" y1="511.5" x2="670" y2="515.5" stroke="#222" stroke-width="1"/>
<line x1="684.42" y1="511.5" x2="684.42" y2="513.5" stroke="#222" stroke-width="1"/>
<line x1="414" y1="506.81" x2="416" y2="506.81" stroke="#222" stroke-width="1"/>
<line x1="414" y1="499.31" x2="416" y2="499.31" stroke="#222" stroke-width="1"/>
<line x1="412" y1="493.49" x2="416" y2="493.49" stroke="#222" stroke-width="1"/>
<line x1="414" y1="475.42" x2="416" y2="475.42" stroke="#222" stroke-width="1"/>
<line x1="414" y1="457.35" x2="416" y2="457.35" stroke="#222" stroke-width="1"/>
<line x1="414" y1="446.78" x2="416" y2="446.78" stroke="#222" stroke-width="1"/>
<line x1="414" y1="439.28" x2="416" y2="439.28" stroke="#222" stroke-width="1"/>
<line x1="412" y1="433.46" x2="416" y2="433.46" stroke="#222" stroke-width="1"/>
<line x1="414" y1="415.39" x2="416" y2="415.39" stroke="#222" stroke-width="1"/>
<line x1="414" y1="397.32" x2="416" y2="397.32" stroke="#222" stroke-width="1"/>
<line x1="414" y1="386.75" x2="416" y2="386.75" stroke="#222" stroke-width="1"/>
<line x1="414" y1="379.25" x2="416" y2="379.25" stroke="#222" stroke-width="1"/>
<line x1="412" y1="373.43" x2="416" y2="373.43" stroke="#222" stroke-width="1"/>
<line x1="414" y1="355.36" x2="416" y2="355.36" stroke="#222" stroke-width="1"/>
<line x1="414" y1="337.29" x2="416" y2="337.29" stroke="#222" stroke-width="1"/>
<line x1="414" y1="326.72" x2="416" y2="326.72" stroke="#222" stroke-width="1"/>
<line x1="414" y1="319.22" x2="416" y2="319.22" stroke="#222" stroke-width="1"/>
<line x1="412" y1="313.4" x2="416" y2="313.4" stroke="#222" stroke-width="1"/>
<text x="405.3" y="317.9" font-size="13" text-anchor="end">10<tspan dy="-6" font-size="9">9</tspan></text>
<text x="405.3" y="377.93" font-size="13" text-anchor="end">10<tspan dy="-6" font-size="9">8</tspan></text>
<text x="405.3" y="437.96" font-size="13" text-anchor="end">10<tspan dy="-6" font-size="9">7</tspan></text>
<text x="405.3" y="497.99" font-size="13" text-anchor="end">10<tspan dy="-6" font-size="9">6</tspan></text>
<text x="431.1" y="535.7" font-size="13" text-anchor="middle" fill="#000">10<tspan dy="-6" font-size="9">−1</tspan></text>
<text x="479" y="535.7" font-size="13" text-anchor="middle" fill="#000">10<tspan dy="-6" font-size="9">0</tspan></text>
<text x="526.9" y="535.7" font-size="13" text-anchor="middle" fill="#000">10<tspan dy="-6" font-size="9">1</tspan></text>
<text x="574.8" y="535.7" font-size="13" text-anchor="middle" fill="#000">10<tspan dy="-6" font-size="9">2</tspan></text>
<text x="622.7" y="535.7" font-size="13" text-anchor="middle" fill="#000">10<tspan dy="-6" font-size="9">3</tspan></text>
<text x="670.6" y="535.7" font-size="13" text-anchor="middle" fill="#000">10<tspan dy="-6" font-size="9">4</tspan></text>
<text x="550.9" y="559.1" font-size="13.4" text-anchor="middle" font-weight="normal" fill="#000" >Power density (W cm<tspan dy="-5" font-size="9.3">−2</tspan><tspan dy="5">)</tspan></text>
<text x="371.4" y="411.9" font-size="13.5" text-anchor="middle" font-weight="normal" fill="#000" transform="rotate(-90 371.4 411.9)">Majority carrier capture rate (s<tspan dy="-5" font-size="9.4">−1</tspan><tspan dy="5">)</tspan></text>
<polyline points="551,396.9 554.6,395 557.7,393.6 563,390.6 568.6,386.8 574,385 576.2,381.8 578,377.1 584.9,374 590,371.5 600,365.3 606,361.2 613.5,354.6 631.9,338.6 645,329 661.3,320.4" fill="none" stroke="#000" stroke-width="2" stroke-linejoin="round" stroke-linecap="round" />
<rect x="548.1" y="394" width="5.8" height="5.8" fill="#000"/>
<rect x="551.7" y="392.1" width="5.8" height="5.8" fill="#000"/>
<rect x="553.7" y="391.3" width="5.8" height="5.8" fill="#000"/>
<rect x="555.4" y="390.5" width="5.8" height="5.8" fill="#000"/>
<rect x="560.1" y="387.7" width="5.8" height="5.8" fill="#000"/>
<rect x="565.7" y="383.9" width="5.8" height="5.8" fill="#000"/>
<rect x="569.2" y="383.9" width="5.8" height="5.8" fill="#000"/>
<rect x="572.3" y="383.9" width="5.8" height="5.8" fill="#000"/>
<rect x="575.4" y="383.9" width="5.8" height="5.8" fill="#000"/>
<rect x="587.8" y="383.9" width="5.8" height="5.8" fill="#000"/>
<rect x="600.3" y="383.9" width="5.8" height="5.8" fill="#000"/>
<rect x="604.9" y="383.9" width="5.8" height="5.8" fill="#000"/>
<rect x="612.3" y="383.9" width="5.8" height="5.8" fill="#000"/>
<rect x="623" y="383.9" width="5.8" height="5.8" fill="#000"/>
<rect x="633.7" y="383.9" width="5.8" height="5.8" fill="#000"/>
<rect x="640.6" y="383.9" width="5.8" height="5.8" fill="#000"/>
<rect x="643.9" y="383.9" width="5.8" height="5.8" fill="#000"/>
<rect x="657.7" y="383.9" width="5.8" height="5.8" fill="#000"/>
<polyline points="420.9,444.4 430,439.2 448.4,429.3 474.1,415.7 505,398.8 537.2,382.2 572.3,365.1 590,354.5 611.9,345.2 633.8,334.2 650.2,325.5 661.3,321.3" fill="none" stroke="#0f0" stroke-width="2.3" stroke-linejoin="round" stroke-linecap="round" />
<polygon points="420.9,440 417.3,446.6 424.5,446.6" fill="#0f0"/>
<polygon points="430,434.8 426.4,441.4 433.6,441.4" fill="#0f0"/>
<polygon points="436.1,431.4 432.5,438 439.7,438" fill="#0f0"/>
<polygon points="448.4,424.9 444.8,431.5 452,431.5" fill="#0f0"/>
<polygon points="460.7,418.3 457.1,424.9 464.3,424.9" fill="#0f0"/>
<polygon points="474.1,411.3 470.5,417.9 477.7,417.9" fill="#0f0"/>
<polygon points="481.7,406.6 478.1,413.2 485.3,413.2" fill="#0f0"/>
<polygon points="491.6,401.4 488,408 495.2,408" fill="#0f0"/>
<polygon points="505,394.4 501.4,401 508.6,401" fill="#0f0"/>
<polygon points="513.2,390.5 509.6,397.1 516.8,397.1" fill="#0f0"/>
<polygon points="520.8,386.5 517.2,393.1 524.4,393.1" fill="#0f0"/>
<polygon points="527.2,383.3 523.6,389.9 530.8,389.9" fill="#0f0"/>
<polygon points="537.2,377.8 533.6,384.4 540.8,384.4" fill="#0f0"/>
<polygon points="550.6,371.5 547,378.1 554.2,378.1" fill="#0f0"/>
<polygon points="562.4,365.3 558.8,371.9 566,371.9" fill="#0f0"/>
<polygon points="572.3,360.7 568.7,367.3 575.9,367.3" fill="#0f0"/>
<polygon points="580.4,356.9 576.8,363.5 584,363.5" fill="#0f0"/>
<polygon points="585.4,354.3 581.8,360.9 589,360.9" fill="#0f0"/>
<polygon points="592.2,351.1 588.6,357.7 595.8,357.7" fill="#0f0"/>
<polygon points="601,347.5 597.4,354.1 604.6,354.1" fill="#0f0"/>
<polygon points="612.4,342.9 608.8,349.5 616,349.5" fill="#0f0"/>
<polygon points="626.3,337.1 622.7,343.7 629.9,343.7" fill="#0f0"/>
<polygon points="636.4,334.4 632.8,341 640,341" fill="#0f0"/>
<polygon points="643.5,331.1 639.9,337.7 647.1,337.7" fill="#0f0"/>
<polygon points="647.8,330.8 644.2,337.4 651.4,337.4" fill="#0f0"/>
<polygon points="660.9,327.3 657.3,333.9 664.5,333.9" fill="#0f0"/>
<polyline points="459.9,493.5 470.3,484.8 477.3,478.7 490.2,468.3 501.4,458.5 517.4,445.3 539.1,427 551.1,417.1 562.9,407.1 570.6,400.8 576,396.5 581.8,389.5 592.2,380 597.1,374.7 603.1,373.7 617.4,360.5 624,354.8 631.9,348.3 643.3,338.5 652,332.5 661.3,326.4" fill="none" stroke="#f00" stroke-width="2.2" stroke-linejoin="round" stroke-linecap="round" />
<circle cx="459.9" cy="493.5" r="3.3" fill="#f00"/>
<circle cx="470.3" cy="484.8" r="3.3" fill="#f00"/>
<circle cx="477.3" cy="478.7" r="3.3" fill="#f00"/>
<circle cx="490.2" cy="468.3" r="3.3" fill="#f00"/>
<circle cx="501.4" cy="458.5" r="3.3" fill="#f00"/>
<circle cx="517.4" cy="445.3" r="3.3" fill="#f00"/>
<circle cx="539.1" cy="427" r="3.3" fill="#f00"/>
<circle cx="551.1" cy="417.1" r="3.3" fill="#f00"/>
<circle cx="562.9" cy="407.1" r="3.3" fill="#f00"/>
<circle cx="570.6" cy="400.8" r="3.3" fill="#f00"/>
<circle cx="576.3" cy="396" r="3.3" fill="#f00"/>
<circle cx="580" cy="394.7" r="3.3" fill="#f00"/>
<circle cx="588.4" cy="393.6" r="3.3" fill="#f00"/>
<circle cx="591.3" cy="393.6" r="3.3" fill="#f00"/>
<circle cx="597" cy="393.6" r="3.3" fill="#f00"/>
<circle cx="603" cy="393.6" r="3.3" fill="#f00"/>
<circle cx="607.6" cy="393.6" r="3.3" fill="#f00"/>
<circle cx="615.3" cy="393.6" r="3.3" fill="#f00"/>
<circle cx="625.9" cy="393.6" r="3.3" fill="#f00"/>
<circle cx="636.6" cy="393.6" r="3.3" fill="#f00"/>
<circle cx="643.5" cy="393.6" r="3.3" fill="#f00"/>
<circle cx="646.8" cy="393.6" r="3.3" fill="#f00"/>
<circle cx="660.6" cy="393.6" r="3.3" fill="#f00"/>
<line x1="613.5" y1="326.4" x2="653.1" y2="326.4" stroke="#f00" stroke-width="1.2"/>
<polygon points="658.6,326.4 652.6,328.1 652.6,324.7" fill="#f00"/>
<line x1="613.5" y1="326.4" x2="630.59" y2="329.59" stroke="#0f0" stroke-width="1.2"/>
<polygon points="636,330.6 629.79,331.17 630.41,327.83" fill="#0f0"/>
<line x1="613.5" y1="326.4" x2="626.98" y2="335.11" stroke="#000" stroke-width="1.2"/>
<polygon points="631.6,338.1 625.64,336.27 627.48,333.42" fill="#000"/>
<text x="515.2" y="324.9" font-size="9.6" text-anchor="start" font-weight="normal" fill="#222" >Total majority carrier</text>
<text x="515.2" y="337.5" font-size="9.6" text-anchor="start" font-weight="normal" fill="#222" >recombination rate</text>
<circle cx="551.4" cy="455.9" r="3.3" fill="#f00"/>
<rect x="548.7" y="466.8" width="5.4" height="5.4" fill="#000"/>
<polygon points="551.4,478.9 547.7,485.5 555.1,485.5" fill="#0f0"/>
<text x="559.2" y="459.3" font-size="11.4" text-anchor="start" font-weight="normal" fill="#000" >GaAs DH WA540</text>
<text x="559.2" y="472.6" font-size="11.4" text-anchor="start" font-weight="normal" fill="#000" >GaAs DH 1-1138</text>
<text x="559.2" y="485.9" font-size="11.4" text-anchor="start" font-weight="normal" fill="#000" >GaAs DH B2206</text>
</svg>
</body></html>
